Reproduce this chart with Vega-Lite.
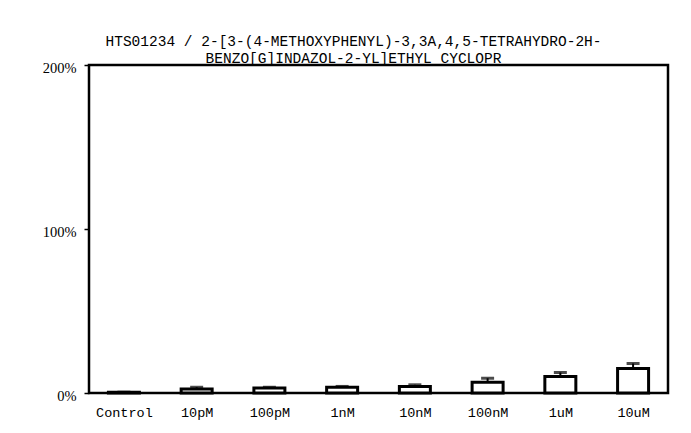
{
  "$schema": "https://vega.github.io/schema/vega-lite/v6.json",
  "autosize": "none",
  "width": 579,
  "height": 328,
  "padding": {"left": 89, "top": 65, "right": 23, "bottom": 40},
  "background": "white",
  "title": {
    "text": ["HTS01234 / 2-[3-(4-METHOXYPHENYL)-3,3A,4,5-TETRAHYDRO-2H-", "BENZO[G]INDAZOL-2-YL]ETHYL CYCLOPR"],
    "font": "Liberation Mono",
    "fontSize": 14.5,
    "fontWeight": "normal",
    "color": "black",
    "anchor": "middle",
    "dx": -25,
    "offset": -6,
    "lineHeight": 17
  },
  "config": {
    "view": {"stroke": "black", "strokeWidth": 2.5},
    "axis": {"grid": false, "domain": false}
  },
  "data": {
    "values": [
      {"label": "Control", "value": 0.5, "upper": 0.5},
      {"label": "10pM", "value": 2.5, "upper": 3.5},
      {"label": "100pM", "value": 3, "upper": 3.5},
      {"label": "1nM", "value": 3.5, "upper": 4},
      {"label": "10nM", "value": 4, "upper": 5},
      {"label": "100nM", "value": 6.5, "upper": 9},
      {"label": "1uM", "value": 10, "upper": 12.5},
      {"label": "10uM", "value": 15, "upper": 18}
    ]
  },
  "encoding": {
    "x": {
      "field": "label",
      "type": "ordinal",
      "sort": null,
      "scale": {"type": "point", "padding": 0.48},
      "axis": {
        "title": null,
        "labelAngle": 0,
        "labelFont": "Liberation Mono",
        "labelFontSize": 13.5,
        "labelColor": "black",
        "ticks": false,
        "labelPadding": 12
      }
    }
  },
  "layer": [
    {
      "mark": {"type": "bar", "fill": "white", "stroke": "black", "strokeWidth": 3, "width": 31},
      "encoding": {
        "y": {
          "field": "value",
          "type": "quantitative",
          "scale": {"domain": [0, 200]},
          "axis": {
            "title": null,
            "values": [0, 100, 200],
            "labelExpr": "datum.value + '%'",
            "labelFont": "Liberation Serif",
            "labelFontSize": 14.5,
            "labelColor": "black",
            "labelOffset": 3,
            "tickColor": "black",
            "tickSize": 5,
            "tickWidth": 1.5,
            "labelPadding": 8
          }
        }
      }
    },
    {
      "mark": {"type": "rule", "stroke": "black", "strokeWidth": 2},
      "encoding": {
        "y": {"field": "value", "type": "quantitative"},
        "y2": {"field": "upper"}
      }
    },
    {
      "mark": {"type": "tick", "color": "black", "thickness": 3, "size": 13},
      "encoding": {
        "y": {"field": "upper", "type": "quantitative"}
      }
    }
  ]
}
